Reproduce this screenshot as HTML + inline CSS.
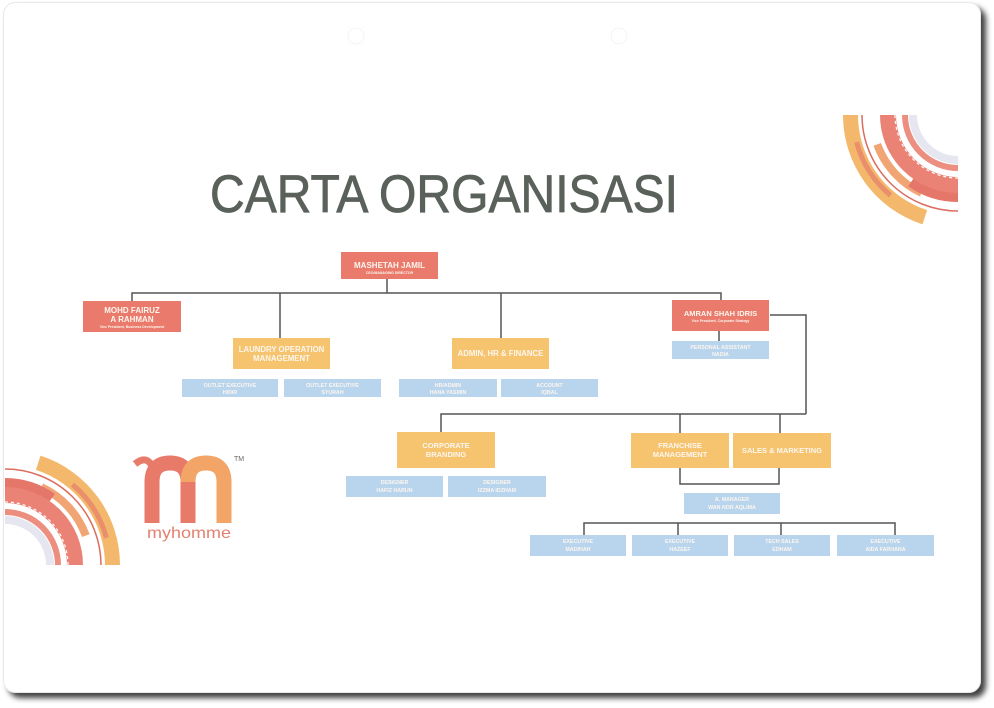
<!DOCTYPE html>
<html>
<head>
<meta charset="utf-8">
<style>
  html,body{margin:0;padding:0;background:#ffffff;}
  body{width:994px;height:708px;overflow:hidden;}
  svg{display:block;}
  .t{font-family:"Liberation Sans",sans-serif;fill:#fdf6ee;font-weight:bold;text-anchor:middle;}
</style>
</head>
<body>
<svg width="994" height="708" viewBox="0 0 994 708" xmlns="http://www.w3.org/2000/svg">
  <defs>
    <filter id="sh" x="-5%" y="-5%" width="110%" height="110%">
      <feGaussianBlur in="SourceAlpha" stdDeviation="3"/>
      <feOffset dx="5" dy="5" result="o"/>
      <feComponentTransfer><feFuncA type="linear" slope="0.75"/></feComponentTransfer>
      <feMerge><feMergeNode/><feMergeNode in="SourceGraphic"/></feMerge>
    </filter>
    <clipPath id="clipBL"><rect x="4" y="440" width="130" height="126"/></clipPath>
    <clipPath id="clipTR"><rect x="830" y="114" width="128" height="126"/></clipPath>
  </defs>

  <!-- card -->
  <rect x="3.5" y="2.5" width="977" height="690" rx="12" ry="12" fill="#ffffff" stroke="#e8e8e8" stroke-width="1" filter="url(#sh)"/>

  <!-- faint punch holes -->
  <circle cx="356" cy="36" r="8" fill="none" stroke="#f4f4f4" stroke-width="1"/>
  <circle cx="619" cy="36" r="8" fill="none" stroke="#f4f4f4" stroke-width="1"/>

  <!-- Title -->
  <text x="210" y="212" font-family="Liberation Sans, sans-serif" font-size="53" fill="#5a615b" stroke="#5a615b" stroke-width="0.8" textLength="468" lengthAdjust="spacingAndGlyphs">CARTA ORGANISASI</text>

  <!-- Bottom-left arcs, center (5,565) -->
  <g clip-path="url(#clipBL)" fill="none">
    <path d="M 112.5 565 A 107.5 107.5 0 0 0 38.2 462.8" stroke="#f4b86c" stroke-width="15"/>
    <path d="M 106.4 537.8 A 105 105 0 0 0 72.5 484.6" stroke="#ea8f6c" stroke-width="5"/>
    <path d="M 101 565 A 96 96 0 0 0 5 469" stroke="#dc6c60" stroke-width="1.5"/>
    <path d="M 85.8 535.6 A 86 86 0 0 0 41.4 487.1" stroke="#f1a574" stroke-width="8"/>
    <path d="M 50.9 499.5 A 80 80 0 0 0 5 485" stroke="#e4776a" stroke-width="14"/>
    <path d="M 75 565 A 70 70 0 0 0 5 495" stroke="#ea8375" stroke-width="16"/>
    <path d="M 68 565 A 63 63 0 0 0 5 502" stroke="#ffffff" stroke-width="1.2" stroke-dasharray="3 3"/>
    <path d="M 58 565 A 53 53 0 0 0 5 512" stroke="#ec8f80" stroke-width="6"/>
    <path d="M 50 565 A 45 45 0 0 0 5 520" stroke="#e6e6f1" stroke-width="8"/>
  </g>

  <!-- Top-right arcs, center (958,115) -->
  <g clip-path="url(#clipTR)" fill="none">
    <path d="M 850.5 115 A 107.5 107.5 0 0 0 924.8 217.2" stroke="#f4b86c" stroke-width="15"/>
    <path d="M 856.6 142.2 A 105 105 0 0 0 890.5 195.4" stroke="#ea8f6c" stroke-width="5"/>
    <path d="M 862 115 A 96 96 0 0 0 958 211" stroke="#dc6c60" stroke-width="1.5"/>
    <path d="M 877.2 144.4 A 86 86 0 0 0 921.6 192.9" stroke="#f1a574" stroke-width="8"/>
    <path d="M 912.1 180.5 A 80 80 0 0 0 958 195" stroke="#e4776a" stroke-width="14"/>
    <path d="M 888 115 A 70 70 0 0 0 958 185" stroke="#ea8375" stroke-width="16"/>
    <path d="M 895 115 A 63 63 0 0 0 958 178" stroke="#ffffff" stroke-width="1.2" stroke-dasharray="3 3"/>
    <path d="M 905 115 A 53 53 0 0 0 958 168" stroke="#ec8f80" stroke-width="6"/>
    <path d="M 913 115 A 45 45 0 0 0 958 160" stroke="#e6e6f1" stroke-width="8"/>
  </g>

  <!-- Logo -->
  <g fill="none" stroke-linecap="butt">
    <path d="M 135 464 Q 147 454 153 468" stroke="#e77c6b" stroke-width="7"/>
    <path d="M 152 523 L 152 482 Q 152 463 170 463 Q 188 463 188 482 L 188 523" stroke="#e87a69" stroke-width="15"/>
    <path d="M 188 482 Q 188 463 206 463 Q 224 463 224 482 L 224 523" stroke="#f2a566" stroke-width="15"/>
  </g>
  <text x="147" y="538" font-family="Liberation Sans, sans-serif" font-size="16" fill="#e28170" textLength="84" lengthAdjust="spacingAndGlyphs">myhomme</text>
  <text x="234" y="461" font-family="Liberation Sans, sans-serif" font-size="7" fill="#666">TM</text>

  <!-- Connectors -->
  <g stroke="#555555" stroke-width="1.5" fill="none">
    <path d="M 387 279 L 387 293"/>
    <path d="M 132 301 L 132 293 L 721 293 L 721 300"/>
    <path d="M 280 293 L 280 338"/>
    <path d="M 501 293 L 501 338"/>
    <path d="M 719 331 L 719 341"/>
    <path d="M 770 315 L 806 315 L 806 414"/>
    <path d="M 441 432 L 441 414 L 806 414"/>
    <path d="M 680 414 L 680 433"/>
    <path d="M 780 414 L 780 433"/>
    <path d="M 680 468 L 680 484 L 779 484 L 779 468"/>
    <path d="M 584 535 L 584 523 L 895 523 L 895 535"/>
    <path d="M 678 523 L 678 535"/>
    <path d="M 781 523 L 781 535"/>
  </g>

  <!-- Red boxes -->
  <g fill="#ea7a6c">
    <rect x="341" y="252" width="97" height="27"/>
    <rect x="83" y="301" width="98" height="31"/>
    <rect x="672" y="300" width="97" height="31"/>
  </g>
  <text class="t" x="389.5" y="268" font-size="8">MASHETAH JAMIL</text>
  <text class="t" x="389.5" y="274" font-size="3.5">CEO/MANAGING DIRECTOR</text>
  <text class="t" x="132" y="313" font-size="8">MOHD FAIRUZ</text>
  <text class="t" x="132" y="322" font-size="8">A RAHMAN</text>
  <text class="t" x="132" y="328" font-size="3.5">Vice President, Business Development</text>
  <text class="t" x="720.5" y="316" font-size="7.5">AMRAN SHAH IDRIS</text>
  <text class="t" x="720.5" y="322" font-size="3.5">Vice President, Corporate Strategy</text>

  <!-- Orange boxes -->
  <g fill="#f6c46e">
    <rect x="233" y="338" width="97" height="31"/>
    <rect x="452" y="338" width="97" height="31"/>
    <rect x="397" y="432" width="98" height="36"/>
    <rect x="631" y="433" width="98" height="35"/>
    <rect x="733" y="433" width="98" height="35"/>
  </g>
  <text class="t" x="281.5" y="352" font-size="7.8">LAUNDRY OPERATION</text>
  <text class="t" x="281.5" y="361" font-size="7.8">MANAGEMENT</text>
  <text class="t" x="500.5" y="356" font-size="7.8">ADMIN, HR &amp; FINANCE</text>
  <text class="t" x="446" y="448" font-size="7.5">CORPORATE</text>
  <text class="t" x="446" y="457" font-size="7.5">BRANDING</text>
  <text class="t" x="680" y="448" font-size="7.5">FRANCHISE</text>
  <text class="t" x="680" y="457" font-size="7.5">MANAGEMENT</text>
  <text class="t" x="782" y="453" font-size="7.5">SALES &amp; MARKETING</text>

  <!-- Blue boxes -->
  <g fill="#b9d5ee">
    <rect x="182" y="379" width="96" height="18"/>
    <rect x="284" y="379" width="97" height="18"/>
    <rect x="399" y="379" width="98" height="18"/>
    <rect x="501" y="379" width="97" height="18"/>
    <rect x="672" y="341" width="97" height="18"/>
    <rect x="346" y="476" width="97" height="21"/>
    <rect x="448" y="476" width="98" height="21"/>
    <rect x="684" y="493" width="96" height="21"/>
    <rect x="530" y="535" width="96" height="21"/>
    <rect x="632" y="535" width="96" height="21"/>
    <rect x="734" y="535" width="96" height="21"/>
    <rect x="837" y="535" width="97" height="21"/>
  </g>
  <g font-size="5.3">
    <text class="t" x="230" y="387">OUTLET EXECUTIVE</text>
    <text class="t" x="230" y="394">HIDIR</text>
    <text class="t" x="332.5" y="387">OUTLET EXECUTIVE</text>
    <text class="t" x="332.5" y="394">SYURAH</text>
    <text class="t" x="448" y="387">HR/ADMIN</text>
    <text class="t" x="448" y="394">HANA YASMIN</text>
    <text class="t" x="549.5" y="387">ACCOUNT</text>
    <text class="t" x="549.5" y="394">IQBAL</text>
    <text class="t" x="720.5" y="349">PERSONAL ASSISTANT</text>
    <text class="t" x="720.5" y="356">NADIA</text>
    <text class="t" x="394.5" y="484">DESIGNER</text>
    <text class="t" x="394.5" y="492">HAFIZ HARUN</text>
    <text class="t" x="497" y="484">DESIGNER</text>
    <text class="t" x="497" y="492">IZZMA IDZHAM</text>
    <text class="t" x="732" y="501">A. MANAGER</text>
    <text class="t" x="732" y="509">WAN NOR AQLIMA</text>
    <text class="t" x="578" y="543">EXECUTIVE</text>
    <text class="t" x="578" y="551">MADIHAH</text>
    <text class="t" x="680" y="543">EXECUTIVE</text>
    <text class="t" x="680" y="551">HAZEEF</text>
    <text class="t" x="782" y="543">TECH SALES</text>
    <text class="t" x="782" y="551">EDHAM</text>
    <text class="t" x="885.5" y="543">EXECUTIVE</text>
    <text class="t" x="885.5" y="551">AIDA FARHANA</text>
  </g>
</svg>
</body>
</html>
